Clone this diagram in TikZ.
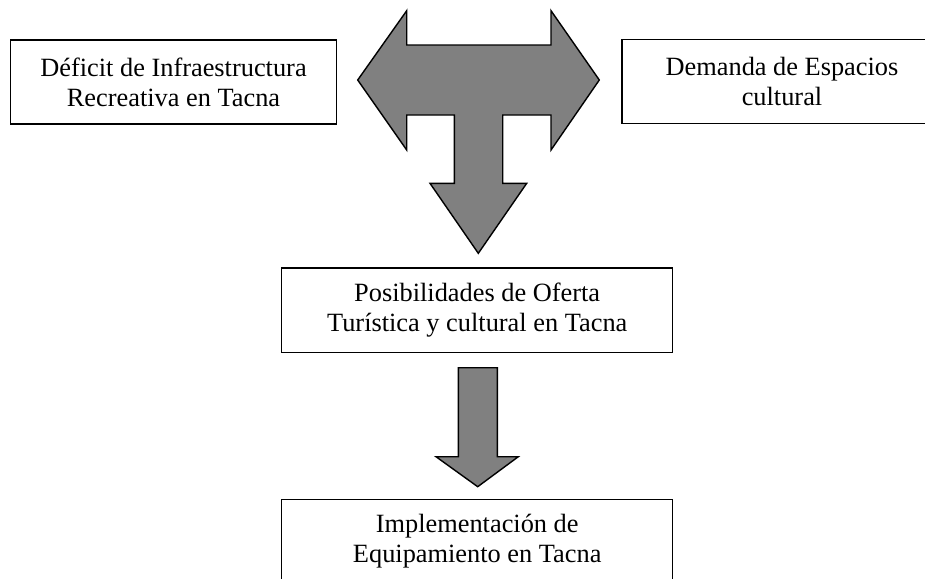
\documentclass[tikz,border=0pt]{standalone}
\usepackage{fontspec}
\setmainfont{Liberation Serif}

\begin{document}
\begin{tikzpicture}[x=0.02cm, y=-0.02cm, font=\fontsize{15}{17}\selectfont,
  caja/.style={draw, line width=0.8pt, align=center, inner sep=0pt},
  flecha/.style={draw, line width=0.8pt, fill=black!50, line join=miter}]
\useasboundingbox (0,0) rectangle (925,578);

% top boxes
\node[caja, minimum width=6.51cm, minimum height=1.68cm] (deficit) at (173.5,82)
  {D\'eficit de Infraestructura\\Recreativa en Tacna};
\node[caja, minimum width=6.4cm, minimum height=1.68cm] (demanda) at (782,81.3)
  {Demanda de Espacios\\cultural};

% middle and bottom boxes
\node[caja, minimum width=7.82cm, minimum height=1.69cm] (oferta) at (477.2,310.4)
  {Posibilidades de Oferta\\Tur\'istica y cultural en Tacna};
\node[caja, minimum width=7.82cm, minimum height=1.68cm] (equipo) at (477.2,541.5)
  {Implementaci\'on de\\Equipamiento en Tacna};

% T-shaped arrow
\draw[flecha] (357.7,80) -- (406.7,10.7) -- (406.7,45) -- (551,45) -- (551,10.7)
  -- (599.3,80) -- (551,150) -- (551,115) -- (502.7,115) -- (502.7,183.3)
  -- (526.7,183.3) -- (478.3,253.3) -- (430,183.3) -- (454.3,183.3)
  -- (454.3,115) -- (406.7,115) -- (406.7,150) -- cycle;

% down arrow
\draw[flecha] (458.3,367.7) -- (497.3,367.7) -- (497.3,456.7) -- (518.3,456.7)
  -- (477.7,486.7) -- (436,456.7) -- (458.3,456.7) -- cycle;
\end{tikzpicture}
\end{document}
